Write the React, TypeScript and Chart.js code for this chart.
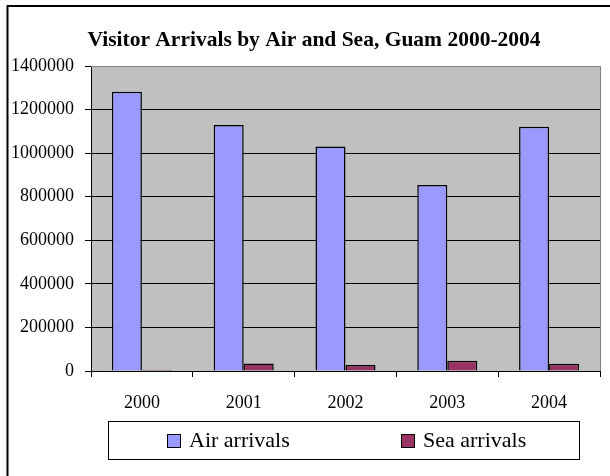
import React, { useEffect, useRef } from "react";
import { Chart, registerables } from "chart.js";

Chart.register(...registerables);

// Guam visitor arrivals by mode of travel
const years = ["2000", "2001", "2002", "2003", "2004"];
const airArrivals = [1282000, 1129000, 1031000, 854000, 1121000];
const seaArrivals = [6000, 35000, 27500, 47300, 33500];
const seriesNames = ["Air arrivals", "Sea arrivals"];
const seriesColors = ["#9999FF", "#993366"];
const yMax = 1400000;
const yStep = 200000;
const chartTitle = "Visitor Arrivals by Air and Sea, Guam 2000-2004";

const SERIF = "'Liberation Serif', 'Times New Roman', serif";

// Excel-style frame: grey plot area, chart border, bold title and boxed legend
const excelFrame = {
  id: "excelFrame",
  beforeDraw(chart: any) {
    const { ctx, chartArea } = chart;
    ctx.save();
    ctx.fillStyle = "#FFFFFF";
    ctx.fillRect(0, 0, chart.width, chart.height);
    ctx.fillStyle = "#C0C0C0";
    ctx.fillRect(
      chartArea.left,
      chartArea.top,
      chartArea.right - chartArea.left,
      chartArea.bottom - chartArea.top
    );
    ctx.restore();
  },
  afterDraw(chart: any) {
    const { ctx, chartArea } = chart;
    ctx.save();

    // plot area outline (top and right)
    ctx.strokeStyle = "#808080";
    ctx.lineWidth = 1;
    ctx.beginPath();
    ctx.moveTo(chartArea.left, chartArea.top + 0.5);
    ctx.lineTo(chartArea.right + 0.5, chartArea.top + 0.5);
    ctx.lineTo(chartArea.right + 0.5, chartArea.bottom);
    ctx.stroke();

    // chart border
    ctx.strokeStyle = "#000000";
    ctx.lineWidth = 2;
    ctx.beginPath();
    ctx.moveTo(7.5, chart.height);
    ctx.lineTo(7.5, 6);
    ctx.lineTo(chart.width, 6);
    ctx.stroke();

    // title
    ctx.fillStyle = "#000000";
    ctx.font = `bold 21.5px ${SERIF}`;
    ctx.textAlign = "center";
    ctx.textBaseline = "middle";
    ctx.fillText(chartTitle, 314, 40);

    // legend box
    ctx.lineWidth = 1;
    ctx.strokeStyle = "#000000";
    ctx.strokeRect(108.5, 421.5, 471, 38);

    const entries = [
      { x: 167, label: seriesNames[0], color: seriesColors[0] },
      { x: 401, label: seriesNames[1], color: seriesColors[1] },
    ];
    ctx.font = `22px ${SERIF}`;
    ctx.textAlign = "left";
    ctx.textBaseline = "middle";
    entries.forEach((e) => {
      ctx.fillStyle = e.color;
      ctx.fillRect(e.x, 434, 14, 14);
      ctx.strokeStyle = "#000000";
      ctx.strokeRect(e.x + 0.5, 434.5, 13, 13);
      ctx.fillStyle = "#000000";
      ctx.fillText(e.label, e.x + 22, 441);
    });

    ctx.restore();
  },
};

export default function App() {
  const canvasRef = useRef<HTMLCanvasElement | null>(null);

  useEffect(() => {
    if (!canvasRef.current) return;
    const chart = new Chart(canvasRef.current, {
      type: "bar",
      data: {
        labels: years,
        datasets: [
          {
            label: seriesNames[0],
            data: airArrivals,
            backgroundColor: seriesColors[0],
            borderColor: "#000000",
            borderWidth: 1.5,
            barPercentage: 1,
            categoryPercentage: 0.59,
          },
          {
            label: seriesNames[1],
            data: seaArrivals,
            backgroundColor: seriesColors[1],
            borderColor: "#000000",
            borderWidth: 1.5,
            barPercentage: 1,
            categoryPercentage: 0.59,
          },
        ],
      },
      options: {
        responsive: false,
        animation: false,
        layout: { padding: { top: 66, right: 10, left: 0, bottom: 0 } },
        plugins: {
          legend: { display: false },
          title: { display: false },
          tooltip: { enabled: false },
        },
        scales: {
          x: {
            offset: true,
            grid: {
              offset: true,
              drawOnChartArea: false,
              drawTicks: true,
              tickLength: 6,
              color: "#000000",
            },
            border: { display: true, color: "#000000" },
            ticks: {
              color: "#000000",
              font: { family: SERIF, size: 18 },
              padding: 15,
            },
            afterFit(scale: any) {
              scale.height = 105;
            },
          },
          y: {
            min: 0,
            max: yMax,
            grid: {
              color: "#000000",
              drawTicks: true,
              tickLength: 6,
            },
            border: { display: true, color: "#000000" },
            ticks: {
              stepSize: yStep,
              color: "#000000",
              font: { family: SERIF, size: 18 },
              padding: 11,
              callback: (v: any) => String(v),
            },
            afterFit(scale: any) {
              scale.width = 91;
            },
          },
        },
      },
      plugins: [excelFrame],
    });
    return () => chart.destroy();
  }, []);

  return (
    <div style={{ position: "absolute", left: 0, top: 0, width: 610, height: 476 }}>
      <canvas ref={canvasRef} width={610} height={476} />
    </div>
  );
}
